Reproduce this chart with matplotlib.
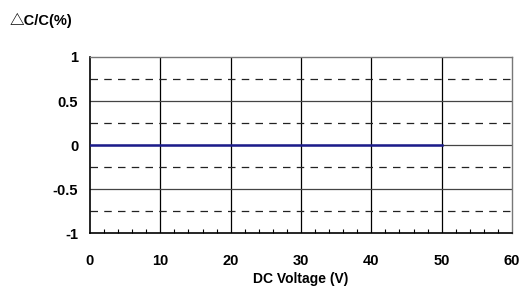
import matplotlib
matplotlib.use('Agg')
import matplotlib.pyplot as plt
from matplotlib.ticker import MultipleLocator

plt.rcParams['font.family'] = ['Liberation Sans', 'DejaVu Sans']

# Data
voltage = [0, 10, 20, 30, 40, 50]
cap_change = [0, 0, 0, 0, 0, 0]
x_ticks = [0, 10, 20, 30, 40, 50, 60]
y_ticks = [-1, -0.5, 0, 0.5, 1]
y_tick_labels = ['-1', '-0.5', '0', '0.5', '1']
y_dashed = [-0.75, -0.25, 0.25, 0.75]

fig = plt.figure(figsize=(5.21, 2.86), dpi=100)
ax = fig.add_axes([0.1727, 0.1853, 0.81, 0.6154])

ax.set_xlim(0, 60)
ax.set_ylim(-1, 1)

# grid
for x in x_ticks[1:-1]:
    ax.axvline(x, color='black', lw=0.9, zorder=1)
for y in y_ticks[1:-1]:
    ax.axhline(y, color='#444444', lw=0.9, zorder=1)
for y in y_dashed:
    ax.axhline(y, color='#222222', lw=0.9, ls=(0, (6, 5)), zorder=1)

ax.plot(voltage, cap_change, color='#1c1c8c', lw=1.8, zorder=3)

ax.set_xticks(x_ticks)
ax.set_yticks(y_ticks)
ax.set_yticklabels(y_tick_labels)
ax.xaxis.set_minor_locator(MultipleLocator(2))
ax.tick_params(axis='x', which='major', length=0, pad=15)
ax.tick_params(axis='x', which='minor', direction='in', length=3, width=0.8, top=False)
ax.tick_params(axis='y', which='major', direction='in', length=0, pad=8.5)
for lbl in ax.get_xticklabels() + ax.get_yticklabels():
    lbl.set_fontweight('bold')
    lbl.set_fontsize(10.5)

for side in ['left', 'bottom']:
    ax.spines[side].set_linewidth(1.2)
    ax.spines[side].set_color('black')
for side in ['top', 'right']:
    ax.spines[side].set_linewidth(1.0)
    ax.spines[side].set_color('#777777')

ax.set_xlabel('DC Voltage (V)', fontsize=10, fontweight='bold', labelpad=3)
fig.text(0.019, 0.927, '△C/C(%)', fontsize=10.5, fontweight='bold', va='center',
         family=['Liberation Sans', 'Noto Sans CJK SC'])

fig.savefig('out.png', dpi=100)
